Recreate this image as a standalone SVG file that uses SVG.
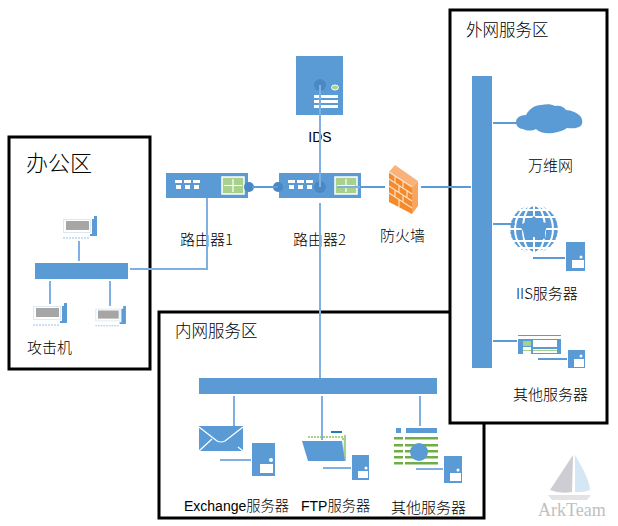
<svg xmlns="http://www.w3.org/2000/svg" width="618" height="526" viewBox="0 0 618 526">
<style>
text{font-family:"Liberation Sans","Noto Sans CJK SC",sans-serif;fill:#000}
.zh{font-family:"Noto Sans CJK SC",sans-serif;font-size:15px;font-weight:300}
.zh2{font-family:"Noto Sans CJK SC",sans-serif;font-size:16.500px;font-weight:300}
.zh3{font-family:"Noto Sans CJK SC",sans-serif;font-size:14.300px;font-weight:300}
.box{fill:#fff;stroke:#000;stroke-width:3}
.b{fill:#5b9bd5}
.w{fill:#fff}
.g{fill:#a9d18e}
.d{fill:#4a88c4}
.c{stroke:#7fb0df;stroke-width:2;fill:none}
.t{stroke:#5b9bd5;stroke-width:2;fill:none}
.scr{fill:#a6a6a6}
</style>
<defs>
<g id="pc">
<path class="b" d="M29 3h2v-3h3v20h-7v-2h2z"/>
<rect x="0.500" y="3.500" width="27" height="13" fill="#fff" stroke="#dce9f5"/>
<rect x="3" y="5" width="23" height="9" class="scr"/>
<path d="M0 22h27" stroke="#9cc2e5" stroke-dasharray="2 1"/>
</g>
<g id="rt">
<rect width="82" height="25" class="b"/>
<g class="w"><rect x="9" y="7" width="7" height="3"/><rect x="18" y="7" width="7" height="3"/><rect x="27" y="7" width="7" height="3"/><rect x="10" y="12" width="5" height="4"/><rect x="19" y="12" width="5" height="4"/><rect x="28" y="12" width="5" height="4"/></g>
<rect x="56" y="4" width="22" height="17" class="g" stroke="#fff" stroke-width="1.500"/>
<path d="M67 6v13M58 12.500h18" stroke="#fff" stroke-width="1.200"/>
</g>
</defs>

<g id="office"><rect class="box" x="9" y="137" width="141" height="232"/>
<text x="26" y="171" style="font-family:'Noto Sans CJK SC',sans-serif;font-size:22px;font-weight:300">办公区</text>
<text x="27" y="353" class="zh">攻击机</text></g>
<g id="office-switch"><rect class="b" x="35" y="263" width="93" height="16"/></g>
<g id="pc1"><use href="#pc" x="63" y="216"/></g>
<g id="pc2"><use href="#pc" x="33" y="303"/></g>
<g id="pc3"><use href="#pc" transform="translate(95.300 306) scale(.9)"/></g>

<g id="ids"><rect class="b" x="296" y="56" width="47" height="59"/>
<circle cx="320" cy="85" r="6" class="d"/>
<ellipse cx="335" cy="87.500" rx="3.500" ry="2.500" class="g" stroke="#fff"/>
<g class="w"><rect x="314" y="95" width="24" height="3"/><rect x="314" y="100" width="24" height="3"/><rect x="314" y="105" width="24" height="3"/></g>
<text x="320" y="142" text-anchor="middle" font-size="14">IDS</text></g>

<g id="router1"><use href="#rt" x="166" y="173"/><circle cx="249" cy="187" r="5" class="d"/>
<text x="180" y="245" class="zh">路由器1</text></g>
<g id="router2"><use href="#rt" x="279" y="173"/><circle cx="278" cy="187" r="5" class="d"/><circle cx="320" cy="187" r="6" class="d"/>
<text x="293" y="245" class="zh">路由器2</text></g>

<g id="firewall">
<path d="M389 172 L412 187 V214 L389 202Z" fill="#f58a2c"/>
<path d="M389 172 L395 165 L418 181 L412 187Z" fill="#f9b27a"/>
<path d="M412 187 L418 181 V206 L412 214Z" fill="#f7a55f"/>
<path d="M389 172 L412 187 M389 179l23 15M389 186l23 15M389 193l23 15M395 176v7M403 181v7M399 186v7M407 190v7M395 190v7M403 195v7M399 200v7" stroke="#fbe3c8" stroke-width="1.200" fill="none"/>
<text x="380" y="241" class="zh">防火墙</text></g>

<g id="internal"><rect class="box" x="159" y="312" width="325" height="206"/>
<text x="175" y="337" class="zh2">内网服务区</text></g>
<g id="internal-switch"><rect class="b" x="199" y="378" width="238" height="16"/></g>
<g id="exchange"><rect class="b" x="199" y="426" width="44" height="25"/>
<path d="M199 427 L217 441 Q221 443 225 441 L243 427M199 451l13-12M243 451l-5-4" stroke="#fff" stroke-width="1.200" fill="none"/>
<rect class="b" x="252" y="443" width="23" height="33"/><circle cx="271" cy="460" r="2" fill="#fff"/><rect x="260" y="464" width="13" height="9" class="w"/>
<text x="184" y="511" font-size="14">Exchange<tspan class="zh3">服务器</tspan></text></g>
<g id="ftp"><path d="M308 437H343V441" stroke="#a9d18e" stroke-width="2" stroke-dasharray="2 1" fill="none"/>
<rect x="331" y="431" width="11" height="2" fill="#2e75b6"/>
<path d="M344 435h2v26l-3-1z" class="g"/>
<path class="b" d="M302 441H342L345 461H308Z"/>
<rect class="b" x="352" y="455" width="17" height="25"/><circle cx="366" cy="468" r="1.500" fill="#fff"/><rect x="358" y="471" width="10" height="7" class="w"/>
<text x="301" y="511" font-size="14">FTP<tspan class="zh3">服务器</tspan></text></g>
<g id="int-other"><rect class="b" x="396" y="428" width="5" height="5"/><rect class="b" x="406" y="428" width="31" height="5"/>
<g fill="#70ad47"><rect x="394" y="437" width="9" height="2.500"/><rect x="405" y="437" width="33" height="2.500"/><rect x="394" y="444" width="9" height="2.500"/><rect x="405" y="444" width="33" height="2.500"/><rect x="394" y="450" width="9" height="2.500"/><rect x="405" y="450" width="33" height="2.500"/><rect x="394" y="456" width="9" height="2.500"/><rect x="405" y="456" width="33" height="2.500"/><rect x="394" y="462" width="9" height="2.500"/><rect x="405" y="462" width="33" height="2.500"/></g>
<circle cx="419" cy="452" r="9" class="b"/>
<rect class="b" x="444" y="456" width="18" height="27"/><circle cx="458" cy="470" r="1.500" fill="#fff"/><rect x="450" y="473" width="11" height="8" class="w"/>
<text x="391" y="513" class="zh">其他服务器</text></g>

<g id="external"><rect class="box" x="450" y="10" width="157" height="413"/>
<text x="466" y="36" class="zh2">外网服务区</text></g>
<g id="external-switch"><rect class="b" x="472" y="76" width="20" height="292"/></g>
<g id="web"><path class="b" d="M523 129c-4 0-7-3-7-7s4-7 10-7c3-6 9-10 15-10 6-1 10-1 14 1 5-1 9 1 11 4 5 0 12 3 15 7 2 4 2 8-2 10-4 2-9 1-12 1-4 3-9 4-14 5-7 1-13 0-17-4-4 2-9 2-13 0z"/>
<text x="528" y="171" class="zh">万维网</text></g>
<g id="iis"><circle cx="534" cy="229" r="24" class="b"/>
<g fill="none" stroke="#fff" stroke-width="2"><ellipse cx="534" cy="229" rx="11" ry="24"/><ellipse cx="534" cy="229" rx="19" ry="24"/><path d="M534 205V253M510 229H558M513 217H555M513 241H555M519 210H549M519 248H549"/></g>
<circle cx="534" cy="229" r="24" fill="none" stroke="#fff" stroke-width="1" stroke-dasharray="2 2"/>
<path class="b" d="M534 216l6 6 8 1-3 9 0 7-11-2-9 3-2-9-4-6 8-3z"/>
<rect class="b" x="566" y="242" width="19" height="29"/><circle cx="581" cy="257" r="1.500" fill="#fff"/><rect x="572" y="260" width="12" height="8" class="w"/>
<text x="516" y="299" class="zh">IIS服务器</text></g>
<g id="ext-other"><rect class="b" x="518" y="339" width="43" height="15"/>
<path d="M518 335.500h43" stroke="#5b9bd5"/>
<rect x="523" y="341" width="8" height="5" class="g"/><rect x="523" y="347" width="8" height="7" class="w"/><rect x="533" y="340" width="24" height="7" class="w"/><rect x="533" y="349" width="24" height="4" class="w"/><path d="M523 350.500h8M533 350.500h24" stroke="#a9d18e"/>
<rect class="b" x="568" y="350" width="17" height="18"/><rect x="574" y="359" width="10" height="8" class="w"/><circle cx="581" cy="356" r="1.500" fill="#fff"/>
<text x="513" y="400" class="zh">其他服务器</text></g>

<g id="watermark"><path d="M573 455 L550 490 Q560 494 572 492Z" fill="#cdcdd3"/><path d="M575 455 Q590 480 590 490 Q582 493 575 492Z" fill="#d5e6f4"/><path d="M548 495H591L587 500H552Z" fill="#e3e3e3"/>
<text x="538" y="516" font-size="18" style="font-family:'Liberation Serif',serif;fill:#c0c0c0">ArkTeam</text></g>

<g id="connectors">
<path class="c" d="M320 85V187M320 203V378"/>
<path class="c" d="M207 198V269H130"/>
<path class="t" d="M252 187H278M360 187H385M421 187H471"/>
<path class="c" d="M337 187H360"/>
<path class="c" d="M79 241V261M50 281V304M110 281V306"/>
<path class="c" d="M234 396V426M322 396V440M420 396V426"/>
<path class="t" d="M493 123H517M493 224H515M493 341H517"/>
<path class="t" stroke-width="3" d="M533 258H565"/>
<path class="t" stroke-width="3" d="M538 359H567"/>
<path class="c" d="M220 460H251M323 468H351M416 469H443"/>
</g>
</svg>
